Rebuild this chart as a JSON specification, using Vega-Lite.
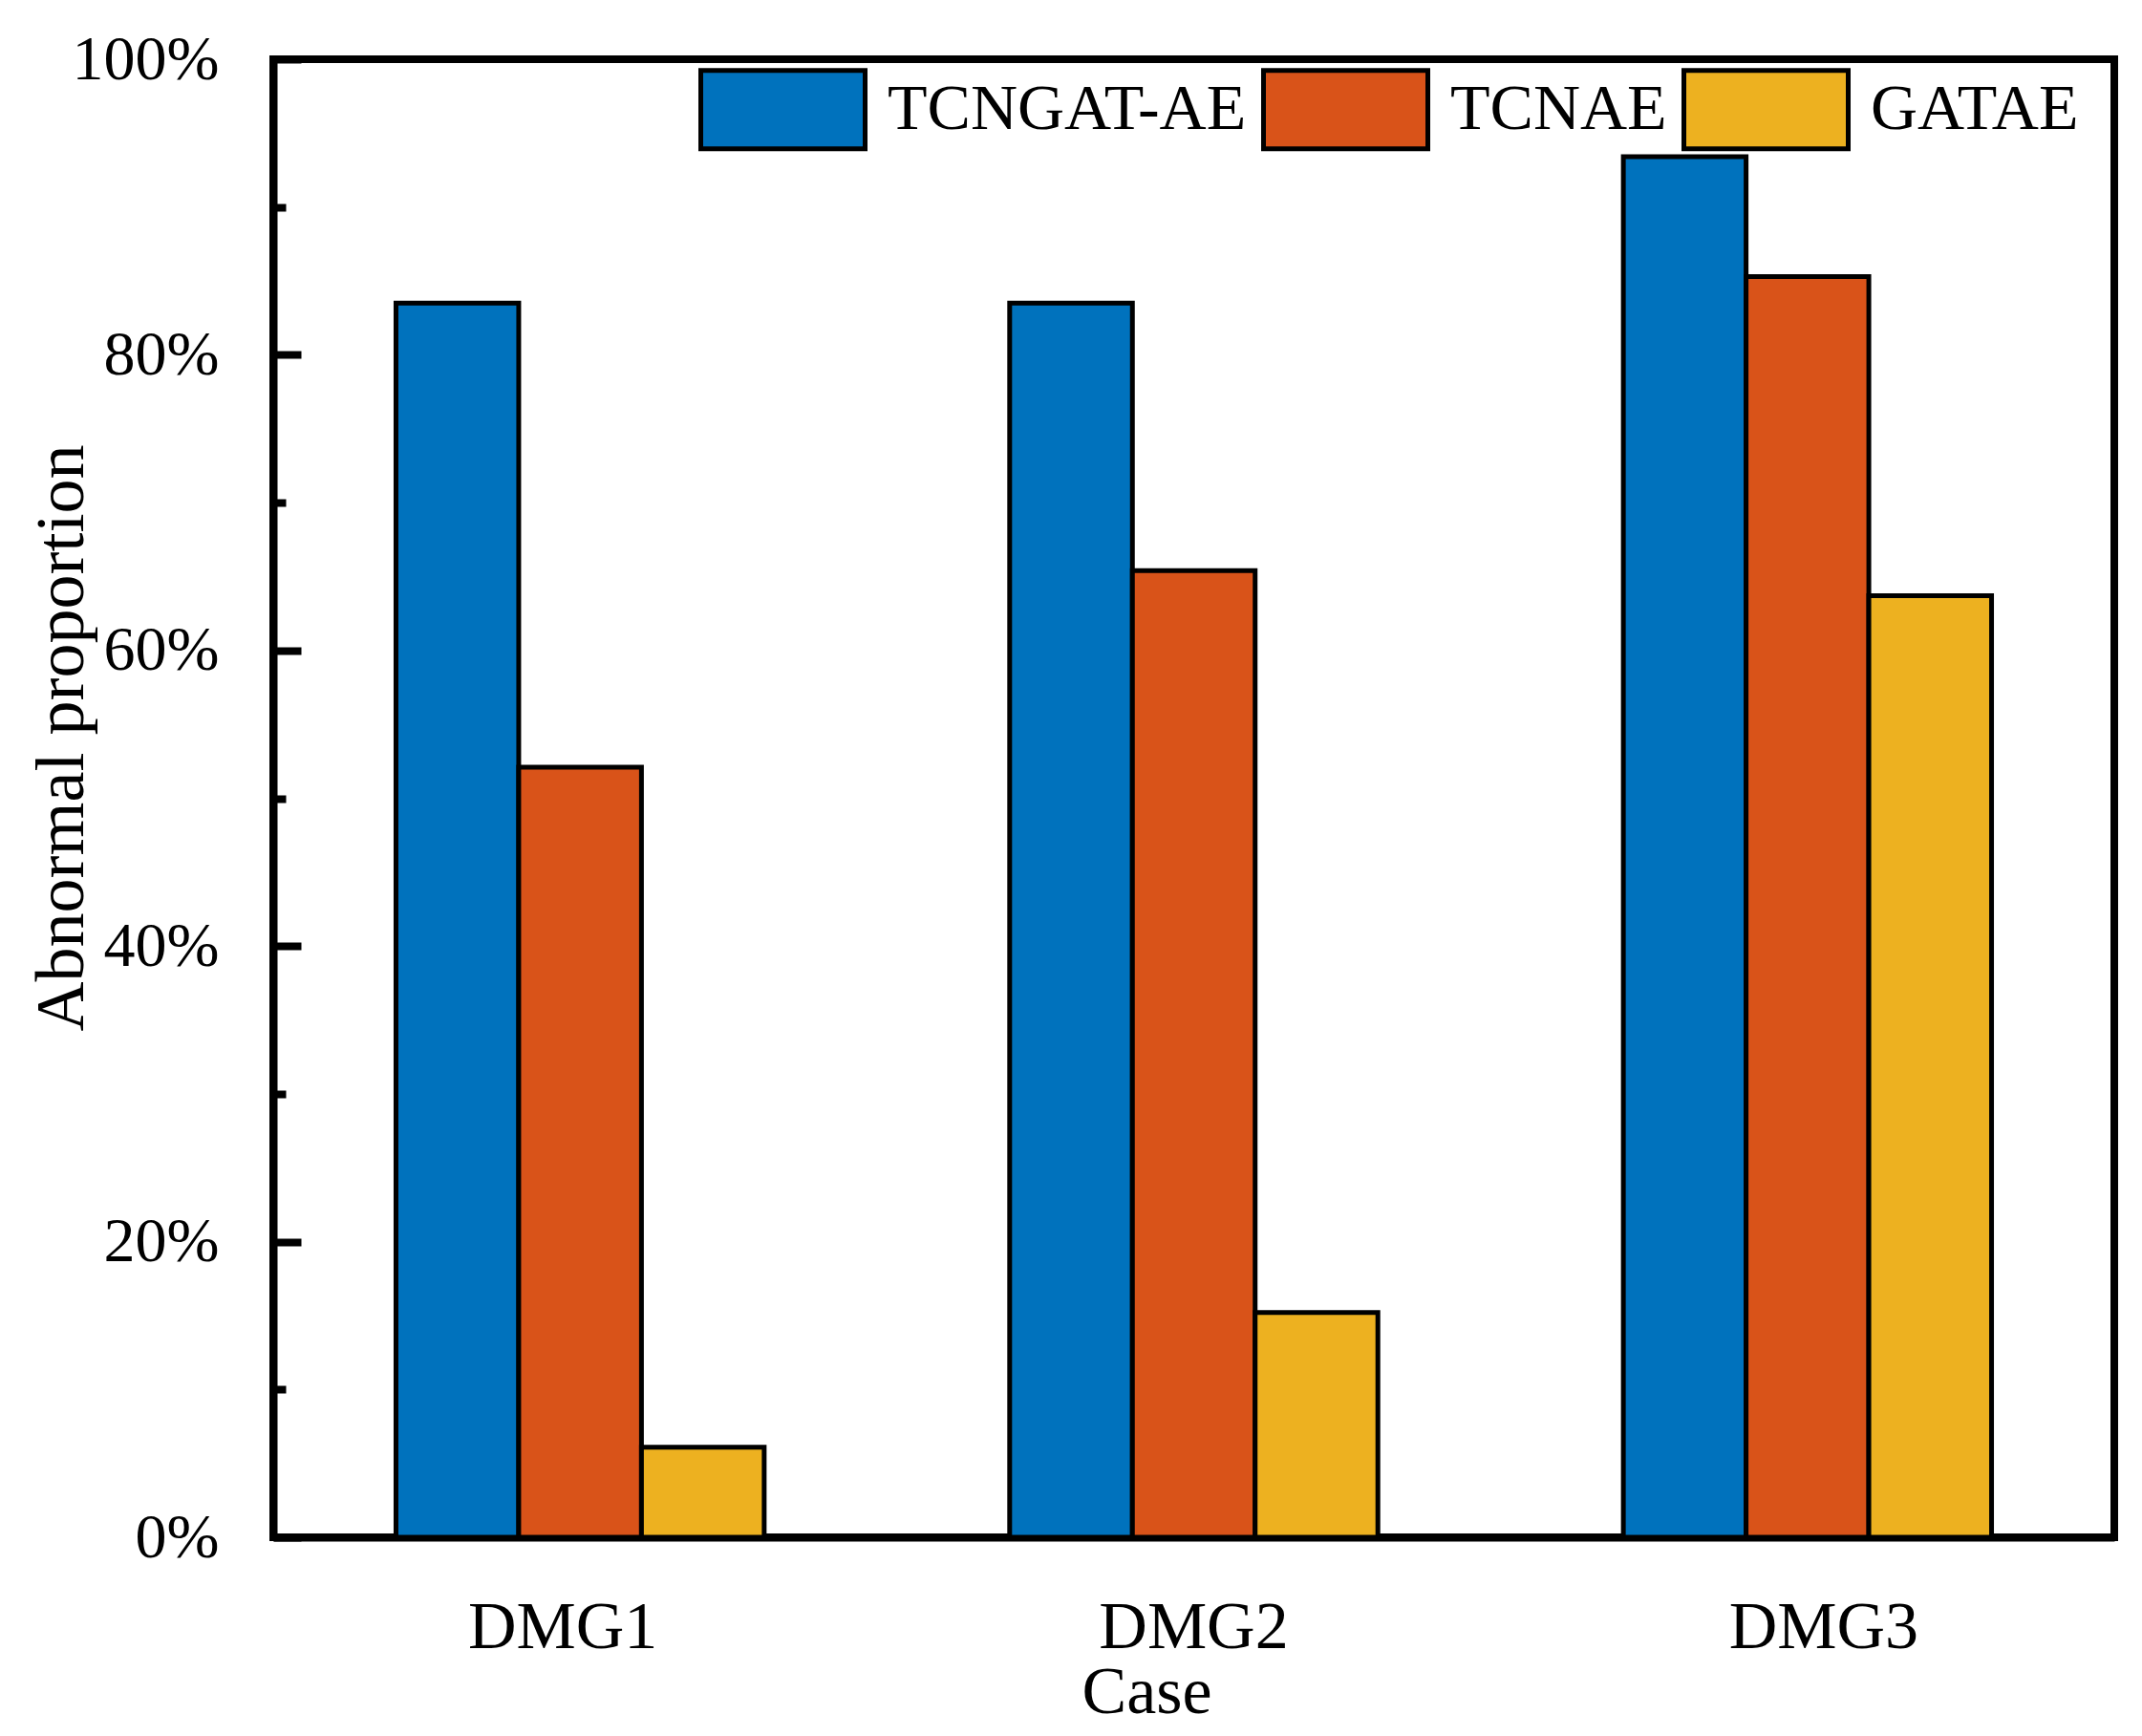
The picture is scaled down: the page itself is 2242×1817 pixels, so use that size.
{
  "$schema": "https://vega.github.io/schema/vega-lite/v6.json",
  "autosize": {"type": "none"},
  "padding": {"left": 286, "top": 62, "right": 29, "bottom": 208},
  "width": 1927,
  "height": 1547,
  "background": "white",
  "data": {
    "values": [
      {"case": "DMG1", "model": "TCNGAT-AE", "value": 83.5},
      {"case": "DMG1", "model": "TCNAE", "value": 52.1},
      {"case": "DMG1", "model": "GATAE", "value": 6.1},
      {"case": "DMG2", "model": "TCNGAT-AE", "value": 83.5},
      {"case": "DMG2", "model": "TCNAE", "value": 65.4},
      {"case": "DMG2", "model": "GATAE", "value": 15.2},
      {"case": "DMG3", "model": "TCNGAT-AE", "value": 93.4},
      {"case": "DMG3", "model": "TCNAE", "value": 85.3},
      {"case": "DMG3", "model": "GATAE", "value": 63.7}
    ]
  },
  "mark": {"type": "bar", "stroke": "black", "strokeWidth": 5, "opacity": 1},
  "encoding": {
    "x": {
      "field": "case",
      "type": "nominal",
      "scale": {"paddingInner": 0.4, "paddingOuter": 0.2},
      "axis": {
        "title": "Case",
        "labelAngle": 0,
        "ticks": false,
        "domain": true,
        "domainColor": "black",
        "domainWidth": 8,
        "labelFont": "Liberation Serif",
        "labelFontSize": 70,
        "labelColor": "black",
        "labelBaseline": "alphabetic",
        "labelPadding": 115,
        "labelLimit": 1000,
        "labelOffset": {"expr": "datum.value === 'DMG1' ? -18 : (datum.value === 'DMG3' ? 17 : 0)"},
        "titleFont": "Liberation Serif",
        "titleFontSize": 70,
        "titleFontWeight": "normal",
        "titleColor": "black",
        "titleX": 914,
        "titleY": 183,
        "titleBaseline": "alphabetic"
      }
    },
    "xOffset": {"field": "model", "type": "nominal", "sort": ["TCNGAT-AE", "TCNAE", "GATAE"]},
    "y": {
      "field": "value",
      "type": "quantitative",
      "scale": {"domain": [0, 100], "nice": false},
      "axis": {
        "title": "Abnormal proportion",
        "values": [0, 10, 20, 30, 40, 50, 60, 70, 80, 90, 100],
        "labelExpr": "datum.value % 20 === 0 ? datum.value + '%' : ''",
        "grid": false,
        "domain": true,
        "domainColor": "black",
        "domainWidth": 8,
        "tickColor": "black",
        "tickWidth": 8,
        "tickSize": {"condition": {"test": "datum.value % 20 === 0", "value": -29}, "value": -13},
        "labelFont": "Liberation Serif",
        "labelFontSize": 66,
        "labelColor": "black",
        "labelPadding": 86,
        "labelFlush": false,
        "labelOverlap": false,
        "titleFont": "Liberation Serif",
        "titleFontSize": 72,
        "titleFontWeight": "normal",
        "titleColor": "black",
        "titleX": -222,
        "titleY": 710,
        "titleBaseline": "middle"
      }
    },
    "color": {
      "field": "model",
      "type": "nominal",
      "sort": ["TCNGAT-AE", "TCNAE", "GATAE"],
      "scale": {"domain": ["TCNGAT-AE", "TCNAE", "GATAE"], "range": ["#0072BD", "#D95319", "#EDB120"]},
      "legend": {
        "title": null,
        "orient": "none",
        "direction": "horizontal",
        "legendX": 445,
        "legendY": -36,
        "padding": 0,
        "symbolType": "M-1,-0.477H1V0.477H-1Z",
        "symbolSize": 29584,
        "symbolStrokeColor": "black",
        "symbolStrokeWidth": 5,
        "symbolOpacity": 1,
        "labelFont": "Liberation Serif",
        "labelFontSize": 68,
        "labelColor": "black",
        "labelOffset": 21,
        "columnPadding": 7,
        "labelLimit": 1000
      }
    }
  },
  "config": {
    "view": {"stroke": "black", "strokeWidth": 8}
  }
}
